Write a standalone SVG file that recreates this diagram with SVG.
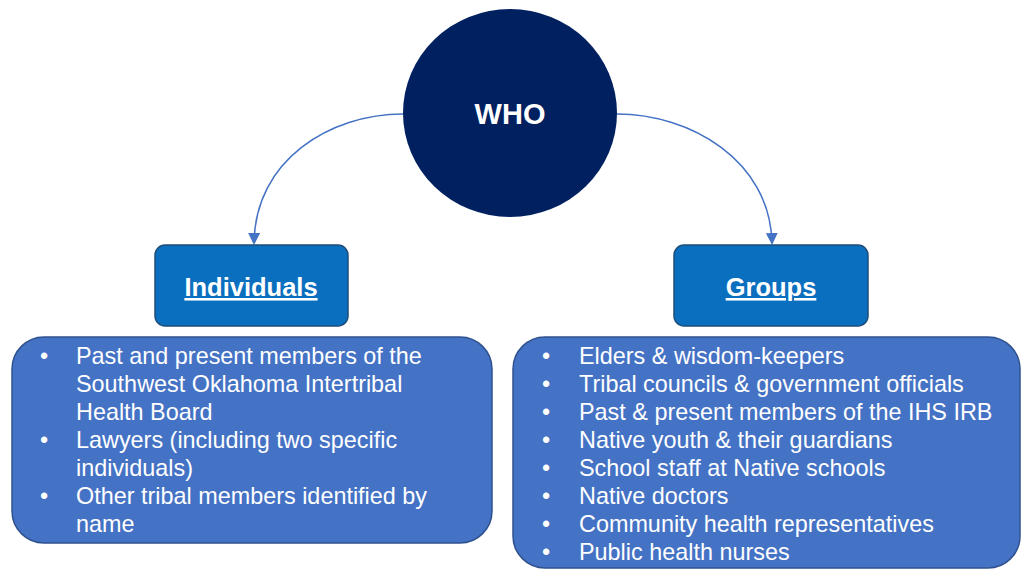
<svg xmlns="http://www.w3.org/2000/svg" width="1021" height="570" viewBox="0 0 1021 570">
<defs>
<style>
.hdr{fill:#0B6FC0;stroke:#1F4E79;stroke-width:1.5}
.lst{fill:#4472C4;stroke:#2F528F;stroke-width:1.5}
.t{font-family:"Liberation Sans",Arial,sans-serif;fill:#fff}
.b{font-size:23.4px}
.h{font-size:25.5px;font-weight:bold;text-decoration:underline}
.con{fill:none;stroke:#4472C4;stroke-width:1.5}
</style>
<marker id="ah" markerWidth="12" markerHeight="12" refX="10" refY="6" orient="auto" markerUnits="userSpaceOnUse" viewBox="0 0 12 12">
<path d="M0,0 L12,6 L0,12 z" fill="#4472C4"/>
</marker>
</defs>
<rect width="1021" height="570" fill="#fff"/>
<g id="connectors">
<path class="con" d="M403,114 C330,114 255,160 254,243" marker-end="url(#ah)"/>
<path class="con" d="M617,114 C690,114 770,160 772,243" marker-end="url(#ah)"/>
</g>
<g id="who">
<ellipse cx="510" cy="113" rx="107" ry="104" fill="#002060"/>
<text class="t" x="510" y="124" text-anchor="middle" font-size="29" font-weight="bold">WHO</text>
</g>
<g id="individuals">
<rect class="hdr" x="155" y="245" width="193" height="81" rx="10"/>
<text class="t h" x="251" y="296" text-anchor="middle">Individuals</text>
</g>
<g id="groups">
<rect class="hdr" x="674" y="245" width="194" height="81" rx="10"/>
<text class="t h" x="771" y="296" text-anchor="middle">Groups</text>
</g>
<g id="individuals-list">
<rect class="lst" x="12" y="337" width="480" height="206" rx="32"/>
<g class="t b">
<text x="40" y="364">•</text>
<text x="76" y="364">Past and present members of the</text>
<text x="76" y="392">Southwest Oklahoma Intertribal</text>
<text x="76" y="420">Health Board</text>
<text x="40" y="448">•</text>
<text x="76" y="448">Lawyers (including two specific</text>
<text x="76" y="476">individuals)</text>
<text x="40" y="504">•</text>
<text x="76" y="504">Other tribal members identified by</text>
<text x="76" y="532">name</text>
</g>
</g>
<g id="groups-list">
<rect class="lst" x="513" y="337" width="507" height="231" rx="32"/>
<g class="t b">
<text x="542" y="364">•</text><text x="579" y="364">Elders &amp; wisdom-keepers</text>
<text x="542" y="392">•</text><text x="579" y="392">Tribal councils &amp; government officials</text>
<text x="542" y="420">•</text><text x="579" y="420">Past &amp; present members of the IHS IRB</text>
<text x="542" y="448">•</text><text x="579" y="448">Native youth &amp; their guardians</text>
<text x="542" y="476">•</text><text x="579" y="476">School staff at Native schools</text>
<text x="542" y="504">•</text><text x="579" y="504">Native doctors</text>
<text x="542" y="532">•</text><text x="579" y="532">Community health representatives</text>
<text x="542" y="560">•</text><text x="579" y="560">Public health nurses</text>
</g>
</g>
</svg>
